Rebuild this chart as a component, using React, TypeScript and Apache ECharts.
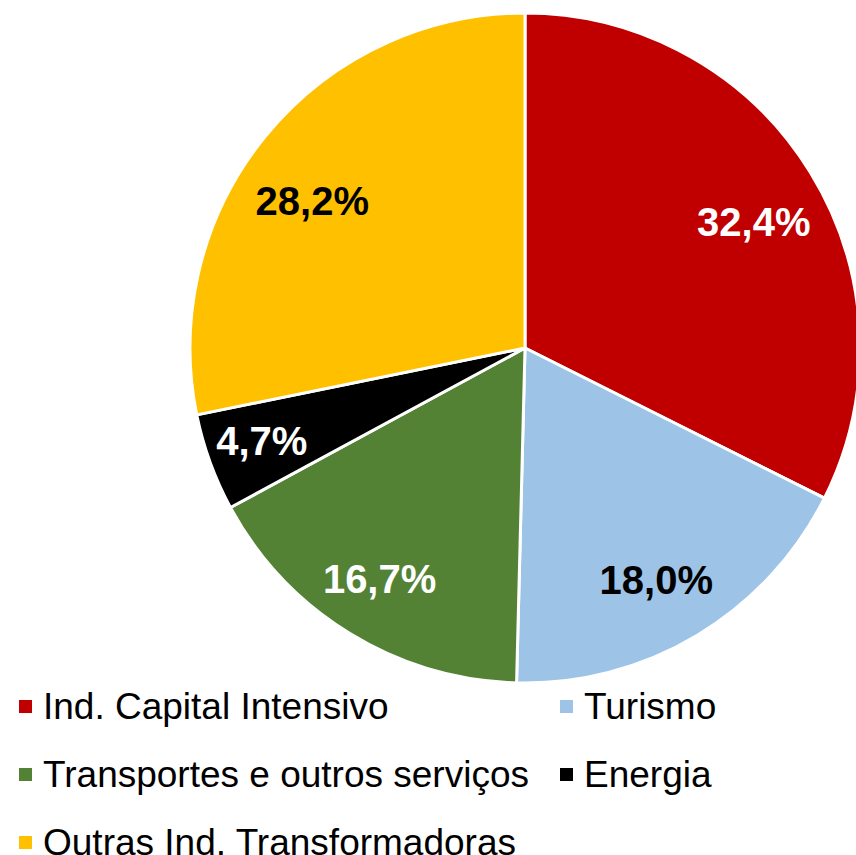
import React, { useEffect, useRef } from "react";
import * as echarts from "echarts";

const categories = [
  "Ind. Capital Intensivo",
  "Turismo",
  "Transportes e outros serviços",
  "Energia",
  "Outras Ind. Transformadoras",
];
const values = [32.4, 18.0, 16.7, 4.7, 28.2];
const legendCol1 = ["Ind. Capital Intensivo", "Transportes e outros serviços", "Outras Ind. Transformadoras"];
const legendCol2 = ["Turismo", "Energia"];

// styling (not data)
const colors = ["#C00000", "#9DC3E6", "#548235", "#000000", "#FFC000"];
const labelColors = ["#FFFFFF", "#000000", "#FFFFFF", "#FFFFFF", "#000000"];
const labelOffsets = [[5, 12], [-4, 6], [-8, 7], [-16, 3], [-9, 19]];

const FONT = "'Liberation Sans', Arial, sans-serif";

export default function App() {
  const ref = useRef<HTMLDivElement>(null);
  useEffect(() => {
    if (!ref.current) return;
    const chart = echarts.init(ref.current, null, { renderer: "svg" });
    const mainData = categories.map((name, i) => ({
      name,
      value: values[i],
      itemStyle: { color: colors[i] },
    }));
    const labelData = categories.map((name, i) => ({
      name,
      value: values[i],
      label: { color: labelColors[i], offset: labelOffsets[i] },
    }));
    const legendCommon = {
      orient: "vertical" as const,
      icon: "rect",
      itemWidth: 15,
      itemHeight: 15,
      itemGap: 31,
      padding: 0,
      height: 200,
      textStyle: {
        fontFamily: FONT,
        fontSize: 37,
        color: "#000",
        lineHeight: 36,
        padding: [0, 0, 0, 5],
      },
      selectedMode: false,
    };
    chart.setOption({
      animation: false,
      backgroundColor: "#fff",
      legend: [
        { ...legendCommon, data: legendCol1, left: 17, top: 688 },
        { ...legendCommon, data: legendCol2, left: 558, top: 688 },
      ],
      series: [
        {
          type: "pie",
          center: [525, 348],
          radius: [0, 335],
          startAngle: 90,
          clockwise: true,
          label: { show: false },
          labelLine: { show: false },
          itemStyle: { borderColor: "#fff", borderWidth: 3 },
          emphasis: { disabled: true },
          data: mainData,
        },
        {
          type: "pie",
          center: [525, 348],
          radius: [185, 335],
          startAngle: 90,
          clockwise: true,
          silent: true,
          itemStyle: { color: "transparent", borderWidth: 0 },
          label: {
            show: true,
            position: "inside",
            fontFamily: FONT,
            fontSize: 40,
            fontWeight: "bold",
            formatter: (p: any) => p.value.toFixed(1).replace(".", ",") + "%",
          },
          labelLine: { show: false },
          emphasis: { disabled: true },
          data: labelData,
        },
      ],
    });
    return () => chart.dispose();
  }, []);
  return (
    <div
      ref={ref}
      style={{ position: "absolute", left: 0, top: 0, width: 856, height: 855 }}
    />
  );
}
